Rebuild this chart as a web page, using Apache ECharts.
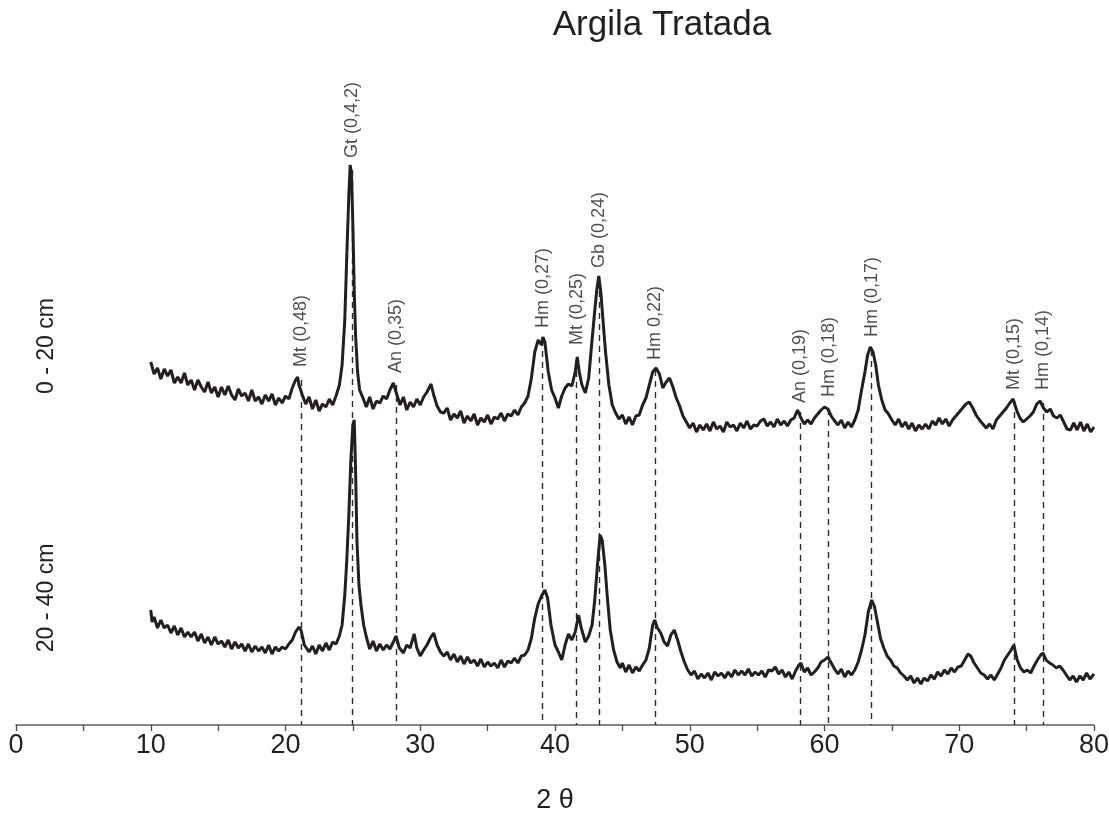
<!DOCTYPE html>
<html><head><meta charset="utf-8">
<script src="https://cdn.jsdelivr.net/npm/echarts@6/dist/echarts.min.js"></script>
<style>html,body{margin:0;padding:0;background:#fff;overflow:hidden}#c{width:1109px;height:817px}</style>
</head><body><div id="c"></div>
<script>
// Upper pattern: 0 - 20 cm  [2θ, intensity (offset, arbitrary units)]
const trace0_20 = [[10,363],[10.25,351],[10.5,357],[10.75,346],[11,356],[11.25,349],[11.5,355],[11.75,342],[12,348],[12.25,342],[12.5,352],[12.75,340],[13,345],[13.25,335],[13.5,345],[13.75,338],[14,333],[14.25,343],[14.5,332],[14.75,338],[15,328],[15.25,338],[15.5,330],[15.75,339],[16,330],[16.25,325],[16.5,336],[16.75,329],[17,332],[17.25,324],[17.5,335],[17.75,324],[18,328],[18.25,321],[18.5,330],[18.75,324],[19,331],[19.25,320],[19.5,327],[19.75,322],[20,329],[20.25,326],[20.5,337],[20.75,345],[20.9,348],[21,340],[21.25,330],[21.5,321],[21.75,328],[22,316],[22.25,325],[22.5,314],[22.75,321],[23,318],[23.25,326],[23.5,320],[23.75,329],[24,340],[24.2,360],[24.4,405],[24.55,470],[24.7,530],[24.8,560],[24.9,550],[25,500],[25.1,435],[25.2,390],[25.35,353],[25.5,335],[25.75,327],[26,318],[26.25,328],[26.5,316],[26.75,324],[27,322],[27.25,329],[27.5,326],[27.75,335],[28,342],[28.25,331],[28.5,320],[28.75,328],[29,315],[29.25,323],[29.5,318],[29.75,326],[30,320],[30.25,328],[30.5,333],[30.8,341],[31,330],[31.25,319],[31.5,313],[31.75,312],[32,317],[32.25,305],[32.5,311],[32.75,307],[33,314],[33.25,302],[33.5,309],[33.75,304],[34,311],[34.25,300],[34.5,307],[34.75,303],[35,310],[35.25,301],[35.5,308],[35.75,306],[36,312],[36.25,304],[36.5,311],[36.75,309],[37,315],[37.25,310],[37.5,318],[37.75,322],[38,329],[38.25,347],[38.5,373],[38.75,385],[39,380],[39.1,388],[39.25,383],[39.5,353],[39.75,335],[40,327],[40.25,317],[40.5,329],[40.75,337],[41,341],[41.25,339],[41.5,353],[41.65,368],[41.8,353],[42,340],[42.25,332],[42.5,347],[42.75,385],[42.9,407],[43.1,435],[43.25,449],[43.4,433],[43.55,407],[43.75,373],[44,340],[44.25,320],[44.5,312],[44.75,306],[45,310],[45.25,301],[45.5,308],[45.75,300],[46,309],[46.25,310],[46.5,320],[46.75,327],[47,340],[47.25,353],[47.5,357],[47.75,351],[48,337],[48.25,343],[48.5,347],[48.75,338],[49,327],[49.25,319],[49.5,309],[49.75,303],[50,297],[50.25,302],[50.5,293],[50.75,300],[51,295],[51.25,301],[51.5,294],[51.75,303],[52,296],[52.25,299],[52.5,293],[52.75,303],[53,298],[53.25,300],[53.5,294],[53.75,302],[54,297],[54.25,304],[54.5,296],[54.75,300],[55,299],[55.25,304],[55.5,306],[55.75,299],[56,303],[56.25,298],[56.5,306],[56.75,300],[57,304],[57.25,299],[57.5,305],[57.75,307],[58,315],[58.25,307],[58.5,301],[58.75,305],[59,301],[59.25,307],[59.5,311],[59.75,315],[60,318],[60.25,316],[60.5,309],[60.75,304],[61,300],[61.25,305],[61.5,297],[61.75,303],[62,298],[62.25,305],[62.5,315],[62.75,335],[63,353],[63.2,370],[63.4,378],[63.6,373],[63.8,360],[64,340],[64.25,325],[64.5,315],[64.75,311],[65,305],[65.25,300],[65.5,306],[65.75,298],[66,303],[66.25,296],[66.5,302],[66.75,294],[67,300],[67.25,296],[67.5,301],[67.75,296],[68,304],[68.25,300],[68.5,307],[68.75,301],[69,306],[69.25,299],[69.5,305],[69.75,309],[70,313],[70.25,317],[70.5,321],[70.75,323],[71,317],[71.25,310],[71.5,305],[71.75,301],[72,297],[72.25,301],[72.5,296],[72.75,305],[73,309],[73.25,313],[73.5,317],[73.75,322],[74,326],[74.25,315],[74.5,307],[74.75,303],[75,306],[75.25,309],[75.5,313],[75.75,321],[76,324],[76.25,317],[76.5,313],[76.75,316],[77,309],[77.25,307],[77.5,310],[77.75,303],[78,296],[78.25,295],[78.5,302],[78.75,295],[79,303],[79.25,294],[79.5,301],[79.75,293],[80,298]];

// Lower pattern: 20 - 40 cm
const trace20_40 = [[10,115],[10.1,103],[10.25,108],[10.5,97],[10.75,105],[11,97],[11.25,100],[11.5,92],[11.75,99],[12,90],[12.25,97],[12.5,88],[12.75,93],[13,88],[13.25,93],[13.5,84],[13.75,91],[14,82],[14.25,88],[14.5,80],[14.75,88],[15,81],[15.25,84],[15.5,78],[15.75,85],[16,76],[16.25,83],[16.5,77],[16.75,81],[17,74],[17.25,81],[17.5,73],[17.75,79],[18,74],[18.25,78],[18.5,72],[18.75,80],[19,71],[19.25,78],[19.5,74],[19.75,78],[20,76],[20.25,81],[20.5,85],[20.75,93],[21,98],[21.15,95],[21.4,80],[21.75,73],[22,79],[22.25,71],[22.5,80],[22.75,74],[23,82],[23.25,75],[23.5,83],[23.75,81],[24,89],[24.2,100],[24.4,130],[24.55,165],[24.7,210],[24.85,265],[25,300],[25.1,305],[25.2,255],[25.3,185],[25.45,140],[25.6,120],[25.8,100],[26,88],[26.25,76],[26.5,84],[26.75,74],[27,81],[27.25,75],[27.5,80],[27.75,76],[28,83],[28.2,89],[28.45,77],[28.75,72],[29,80],[29.25,77],[29.55,91],[29.75,77],[30,69],[30.25,75],[30.5,80],[30.75,87],[31,92],[31.25,80],[31.5,73],[31.75,69],[32,73],[32.25,65],[32.5,71],[32.75,63],[33,69],[33.25,61],[33.5,68],[33.75,62],[34,65],[34.25,59],[34.5,66],[34.75,58],[35,63],[35.25,59],[35.5,62],[35.75,57],[36,65],[36.25,58],[36.5,64],[36.75,62],[37,67],[37.25,62],[37.5,69],[37.75,70],[38,75],[38.25,87],[38.5,107],[38.75,121],[39,129],[39.25,135],[39.45,127],[39.7,100],[40,80],[40.25,73],[40.5,65],[40.75,80],[41,91],[41.25,85],[41.5,93],[41.75,110],[41.95,97],[42.25,83],[42.5,89],[42.75,100],[42.95,125],[43.15,160],[43.35,190],[43.5,185],[43.7,160],[43.9,125],[44.1,95],[44.35,75],[44.6,63],[44.85,57],[45,62],[45.25,53],[45.5,60],[45.75,52],[46,58],[46.25,54],[46.5,60],[46.75,65],[47,77],[47.25,100],[47.4,105],[47.6,97],[47.85,92],[48.1,83],[48.35,79],[48.6,90],[48.85,95],[49.1,85],[49.35,73],[49.6,63],[49.85,55],[50.1,50],[50.35,54],[50.6,46],[50.85,51],[51.1,47],[51.35,52],[51.6,45],[51.85,53],[52.1,49],[52.35,52],[52.6,47],[52.85,53],[53.1,48],[53.35,55],[53.6,50],[53.85,54],[54.1,50],[54.35,56],[54.6,49],[54.85,53],[55.1,50],[55.35,54],[55.6,48],[55.85,55],[56.1,54],[56.35,58],[56.6,51],[56.85,55],[57.1,48],[57.35,53],[57.6,46],[57.85,54],[58.1,60],[58.25,62],[58.5,53],[58.75,57],[59,50],[59.25,53],[59.5,57],[59.75,63],[60,65],[60.25,68],[60.5,62],[60.75,56],[61,51],[61.25,56],[61.5,48],[61.75,54],[62,50],[62.25,55],[62.5,63],[62.75,75],[63,90],[63.25,113],[63.5,125],[63.7,119],[63.9,105],[64.15,87],[64.4,77],[64.65,69],[64.9,65],[65.15,59],[65.4,57],[65.65,52],[65.9,49],[66.15,45],[66.4,49],[66.65,42],[66.9,47],[67.15,41],[67.4,47],[67.65,44],[67.9,50],[68.15,46],[68.4,53],[68.65,49],[68.9,55],[69.15,51],[69.4,57],[69.65,53],[69.9,58],[70.15,59],[70.4,65],[70.65,71],[70.85,69],[71.1,62],[71.35,57],[71.6,52],[71.85,50],[72.1,46],[72.35,50],[72.6,45],[72.85,51],[73.1,57],[73.35,65],[73.6,70],[73.85,75],[74.05,80],[74.3,65],[74.55,57],[74.8,53],[75.05,55],[75.3,52],[75.55,59],[75.8,65],[76.05,70],[76.2,72],[76.45,65],[76.7,62],[76.95,60],[77.2,57],[77.45,59],[77.7,55],[77.95,50],[78.2,45],[78.45,49],[78.7,43],[78.95,49],[79.2,45],[79.45,52],[79.7,46],[80,51]];

// Reflection markers
const peakTheta  = [21.15, 24.95, 28.2, 39.08, 41.6, 43.3, 47.45, 58.2, 60.3, 63.5, 74.1, 76.2];
const peakLabels = ['Mt (0,48)','Gt (0,4,2)','An (0,35)','Hm (0,27)','Mt (0,25)','Gb (0,24)','Hm 0,22)','An (0,19)','Hm (0,18)','Hm (0,17)','Mt (0,15)','Hm (0,14)'];
const labelBase  = [358, 567, 352, 397, 380, 457, 365, 322, 328, 388, 335, 335];
const lineTop    = [345, 555, 340, 385, 365, 445, 355, 313, 316, 375, 324, 322];

const chartTitle = 'Argila Tratada';
const depthLabels = ['0 - 20 cm', '20 - 40 cm'];
const xName = '2 θ';

const FONT = "'Liberation Sans', Arial, Helvetica, sans-serif";
const INK = '#231f20';

const chart = echarts.init(document.getElementById('c'), null, {renderer: 'canvas'});
chart.setOption({
  animation: false,
  backgroundColor: '#fff',
  grid: {left: 16, right: 15, top: 100, bottom: 92, containLabel: false, outerBoundsMode: 'none'},
  xAxis: {
    type: 'value', min: 0, max: 80, interval: 10,
    name: xName, nameLocation: 'middle', nameGap: 62,
    nameTextStyle: {fontSize: 27, color: INK, fontFamily: FONT},
    axisLine: {show: true, onZero: false, lineStyle: {color: '#5e5e5e', width: 1.5}},
    axisTick: {show: true, inside: false, length: 6, lineStyle: {color: '#4a4a4a', width: 1.3}},
    minorTick: {show: true, splitNumber: 2, length: 6, lineStyle: {color: '#4a4a4a', width: 1.3}},
    splitLine: {show: false}, minorSplitLine: {show: false},
    axisLabel: {fontSize: 27, color: INK, fontFamily: FONT, margin: 7}
  },
  yAxis: {type: 'value', min: 0, max: 625, show: false, splitLine: {show: false}},
  graphic: [
    {type: 'text', x: 662, y: 25, style: {text: chartTitle, fontSize: 35, fontFamily: FONT, fill: INK, align: 'center', verticalAlign: 'middle'}},
    {type: 'text', x: 47, y: 346, rotation: Math.PI / 2, style: {text: depthLabels[0], fontSize: 23, fontFamily: FONT, fill: INK, align: 'center', verticalAlign: 'middle'}},
    {type: 'text', x: 47, y: 598, rotation: Math.PI / 2, style: {text: depthLabels[1], fontSize: 23, fontFamily: FONT, fill: INK, align: 'center', verticalAlign: 'middle'}}
  ],
  series: [
    {
      type: 'lines', coordinateSystem: 'cartesian2d', z: 1, silent: true,
      lineStyle: {color: '#2a2a2a', width: 1.4, type: [6, 5], opacity: 1},
      data: peakTheta.map((t, i) => ({coords: [[t, lineTop[i]], [t, 0]]}))
    },
    {
      name: depthLabels[1], type: 'line', z: 3, showSymbol: false, symbol: 'none', smooth: false,
      lineStyle: {color: INK, width: 3}, data: trace20_40
    },
    {
      name: depthLabels[0], type: 'line', z: 3, showSymbol: false, symbol: 'none', smooth: false,
      lineStyle: {color: INK, width: 3}, data: trace0_20
    },
    {
      type: 'scatter', z: 5, symbolSize: 1, silent: true,
      itemStyle: {color: 'rgba(0,0,0,0)'},
      data: peakTheta.map((t, i) => ({value: [t, labelBase[i]], name: peakLabels[i]})),
      label: {
        show: true, position: 'inside', rotate: 90, align: 'left', verticalAlign: 'middle',
        formatter: p => p.name, fontSize: 18, fontFamily: FONT, color: INK
      }
    }
  ]
});
</script></body></html>
